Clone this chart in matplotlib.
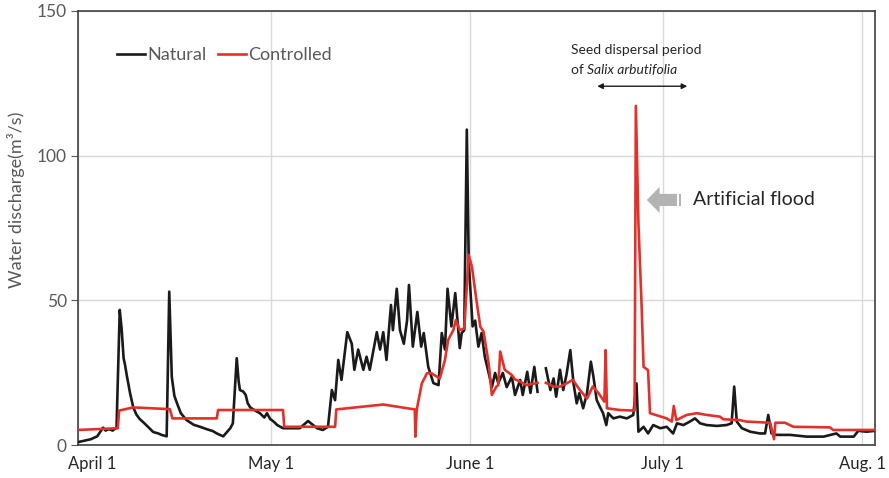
"""
Water discharge: natural vs controlled flow, April to August.
"""
import numpy as np
import matplotlib
matplotlib.use("Agg")
import matplotlib.pyplot as plt
from matplotlib.patches import FancyArrow, Rectangle
from matplotlib.transforms import ScaledTranslation

plt.rcParams['font.family'] = ['Lato', 'DejaVu Sans']

# days since April 1
nat_day = [0, 1, 2, 3, 3.9, 4.3, 4.8, 5.4, 6.0, 6.5, 6.8, 7.1, 7.3, 7.6, 8.1, 8.6, 9.1,
           9.6, 10.1, 10.8, 11.7, 12.5, 13.0, 13.8,
           14.2, 14.5, 14.6, 15.0, 15.4, 16.0, 16.9, 18, 19, 20, 21, 21.6, 22.6, 23.7,
           24.1, 24.7, 25.0, 25.2, 25.7, 26.1, 26.4, 26.8, 27.5, 28.3, 29.0, 29.4, 29.9,
           30.5, 31, 31.9, 34.5, 35.8, 37.2, 38.1, 38.9, 39.5,
           40, 40.5, 41, 41.9, 42.6, 43, 43.6, 44.4, 44.9, 45.4, 46.5, 47, 47.5, 48,
           48.7, 49, 49.6, 50.1, 50.7, 51.2, 51.5, 52.1, 52.8, 53.4, 53.8, 54.5, 55.3,
           56.1, 56.6, 57.1, 57.5, 58.1, 58.7, 59.4, 59.7, 60.1, 60.5, 60.8, 61.4,
           61.8, 62.3, 62.8, 63.3, 63.9, 64.4, 64.9, 65.4, 66.1, 66.7, 67.5, 68.0,
           68.8, 69.2, 69.9, 70.4, 71.0, 71.5, 71.6, 72.8, 73.5, 74, 74.4, 75, 75.5,
           76, 76.6, 77.1, 77.6, 78, 78.6, 79.2, 79.8, 80.2, 80.7, 81.2, 81.7, 82.2,
           82.5, 83.3, 84.3, 85.4, 86.4, 86.9, 87.2, 88, 88.7, 89.5, 90.6, 91.6, 92.6,
           93.2, 94.2, 95.2, 96, 96.8, 97.8, 99.4, 100.9, 101.7, 102.1, 102.5, 103.3,
           104.6, 106.1, 106.9, 107.4, 107.9, 108.7, 110.8, 113.4, 116, 118, 118.6,
           120.7, 121.4, 122.7, 124]
nat_flow = [1, 1.5, 2, 3, 6, 5, 5.5, 5, 6, 46.7, 40, 30, 28, 24, 18, 13, 10.5,
            9, 8, 6.5, 4.5, 4, 3.5, 3,
            53, 30, 23.5, 17, 14.5, 11, 8.6, 7, 6.3, 5.5, 4.8, 4, 3, 5.8,
            7.5, 30, 22, 19, 18.5, 17.3, 14.5, 13, 12, 11, 9.5, 11, 9,
            8, 6.9, 5.8, 5.8, 8.3, 5.8, 5.2, 6.3, 19,
            15.5, 29.4, 22.5, 39, 35, 26, 33, 26, 30.5, 26, 39, 33, 39, 29.4,
            48.4, 39.7, 54, 39.7, 35, 43, 55.3, 34, 46, 34, 38.7, 27, 21.4,
            20.7, 38.7, 33, 54, 41, 52.5, 33.5, 38.7, 39.7, 109, 63, 41,
            43, 34, 38.7, 30.5, 24.9, 20, 24.9, 21.4, 24.9, 20, 23.6, 17.3,
            22.5, 17.3, 25.3, 18, 27, 18.4, np.nan, 26.5, 19, 23, 16.7, 26, 19,
            24.2, 32.8, 21.3, 14.4, 17.9, 12.7, 17.9, 28.8, 23.6, 15.6, 13.2, 11, 6.9,
            11, 9.2, 9.8, 9.2, 10.4, 21.3, 4.6, 6.3, 4, 6.9, 5.8, 6.3, 4,
            7.5, 6.9, 8.1, 9.2, 7.5, 6.9, 6.6, 6.9, 7.5, 20.2, 8.1, 5.8,
            4.6, 4, 4, 10.4, 4, 3.5, 3.5, 2.9, 2.9, 4, 2.9,
            2.9, 4.9, 4.6, 4.9]

ctrl_day = [0, 6.2, 6.4, 8.6, 14.3, 14.7, 21.6, 21.8, 31.9, 32.1, 40, 40.2, 47.5,
            52.4, 52.5, 52.7, 53.5, 54.3, 55, 56.3, 57.1, 57.6, 58.4, 58.8, 59.4,
            60.1, 60.8, 61.3, 62, 62.6, 63.1, 63.9, 64.4, 65.1, 65.4, 65.7, 66.4,
            67.5, 68.0, 68.8, 69.8, 71.5, 71.6, 72.8, 74, 75, 76, 77, 78.1, 79.2,
            80.1, 81, 81.9, 82.1, 82.3, 84.3, 86.6, 86.8, 87.2, 87.7, 88.0, 88.7,
            89.0, 91.6, 92.4, 92.7, 93.1, 94.7, 96.3, 97.8, 99.9, 100.4, 103, 104,
            107.7, 108.3, 108.5, 110, 111.3, 117, 117.5, 124]
ctrl_flow = [5.2, 5.8, 11.9, 13, 12.4, 9.2, 9.2, 12.1, 12.1, 6.3, 6.3, 12.3, 14,
             12.3, 2.9, 12.1, 21.3, 24.8, 24.8, 23, 29.4, 36.3, 39.7, 43.2, 39.7,
             40.3, 65.7, 61.6, 50, 40.9, 39.2, 28.2, 17.3, 20.2, 20.7, 32.3, 26,
             24.2, 22.7, 21.9, 20.7, 21.5, np.nan, 21.5, 20.2, 20.2, 21.3, 22.5, 19, 16.1,
             20.2, 17.9, 15, 32.8, 12.7, 12.1, 11.9, 117.2, 76.6, 47.8, 27, 25.9,
             11, 9.2, 8.1, 13.5, 8.6, 10.4, 11, 10.4, 9.8, 8.9, 8.6, 8.1,
             7.7, 2, 7.7, 7.7, 6.3, 6.1, 5.2, 5.2]

tick_days = [0, 30, 61, 91, 122]
tick_labels = ['April 1', 'May 1', 'June 1', 'July 1', 'Aug. 1']

fig = plt.figure(figsize=(8.89, 4.78), dpi=100)
ax = fig.add_axes([0.0877, 0.069, 0.8965, 0.908])

grid_col = '#d9d9d9'
gray_txt = '#595959'

ax.plot(nat_day, nat_flow, color='#1a1a1a', lw=1.9, label='Natural', zorder=3)
ax.plot(ctrl_day, ctrl_flow, color='#e2312a', lw=1.9, label='Controlled', zorder=4)

ax.set_xlim(0, 124)
ax.set_ylim(0, 150)
ax.set_yticks([0, 50, 100, 150])
ax.set_xticks(tick_days)
ax.set_xticklabels(tick_labels, fontsize=12, color='#262626')
ax.tick_params(axis='x', length=0, pad=8)
ax.tick_params(axis='y', length=5, color='#595959', labelsize=12.5, labelcolor=gray_txt, pad=3)
# shift first date label like the original
lbl0 = ax.get_xticklabels()[0]
lbl0.set_transform(lbl0.get_transform() + ScaledTranslation(14 / 100, 0, fig.dpi_scale_trans))

ax.grid(True, color=grid_col, lw=1.0, zorder=0)
ax.set_axisbelow(True)
for sp in ax.spines.values():
    sp.set_color('#404040')
    sp.set_linewidth(1.2)

ax.set_ylabel('Water discharge(m³/s)', fontsize=13, color=gray_txt)
ax.yaxis.set_label_coords(-0.066, 0.565)

ax.legend(loc='center left', bbox_to_anchor=(0.049, 0.899), ncol=2, frameon=False,
          fontsize=13, handlelength=1.55, handletextpad=0.15, columnspacing=0.6,
          borderpad=0, borderaxespad=0, labelcolor=gray_txt)

# seed dispersal annotation
ax.text(76.7, 136.5, 'Seed dispersal period', fontsize=10, color='#262626',
        va='center', ha='left')
t_of = ax.text(76.7, 129.6, 'of ', fontsize=10, color='#262626', va='center', ha='left')
ax.annotate('Salix arbutifolia', xy=(1, 0), xycoords=t_of, va='bottom', ha='left',
            fontsize=10, color='#262626', style='italic')
ax.annotate('', xy=(80.8, 124), xytext=(94.8, 124),
            arrowprops=dict(arrowstyle='<|-|>', color='#1a1a1a', lw=1.0, mutation_scale=8,
                            shrinkA=0, shrinkB=0))

# artificial flood label with block arrow
ax.add_patch(FancyArrow(93.2, 84.7, -4.7, 0, width=4.2, head_width=9, head_length=2.0,
                        length_includes_head=True, color='#b3b3b3', lw=0, zorder=5))
ax.add_patch(Rectangle((93.45, 82.6), 0.35, 4.2, color='#b3b3b3', lw=0, zorder=5))
ax.text(95.7, 84.7, 'Artificial flood', fontsize=14, color='#262626', va='center', ha='left')

fig.savefig('out.png', dpi=100)
